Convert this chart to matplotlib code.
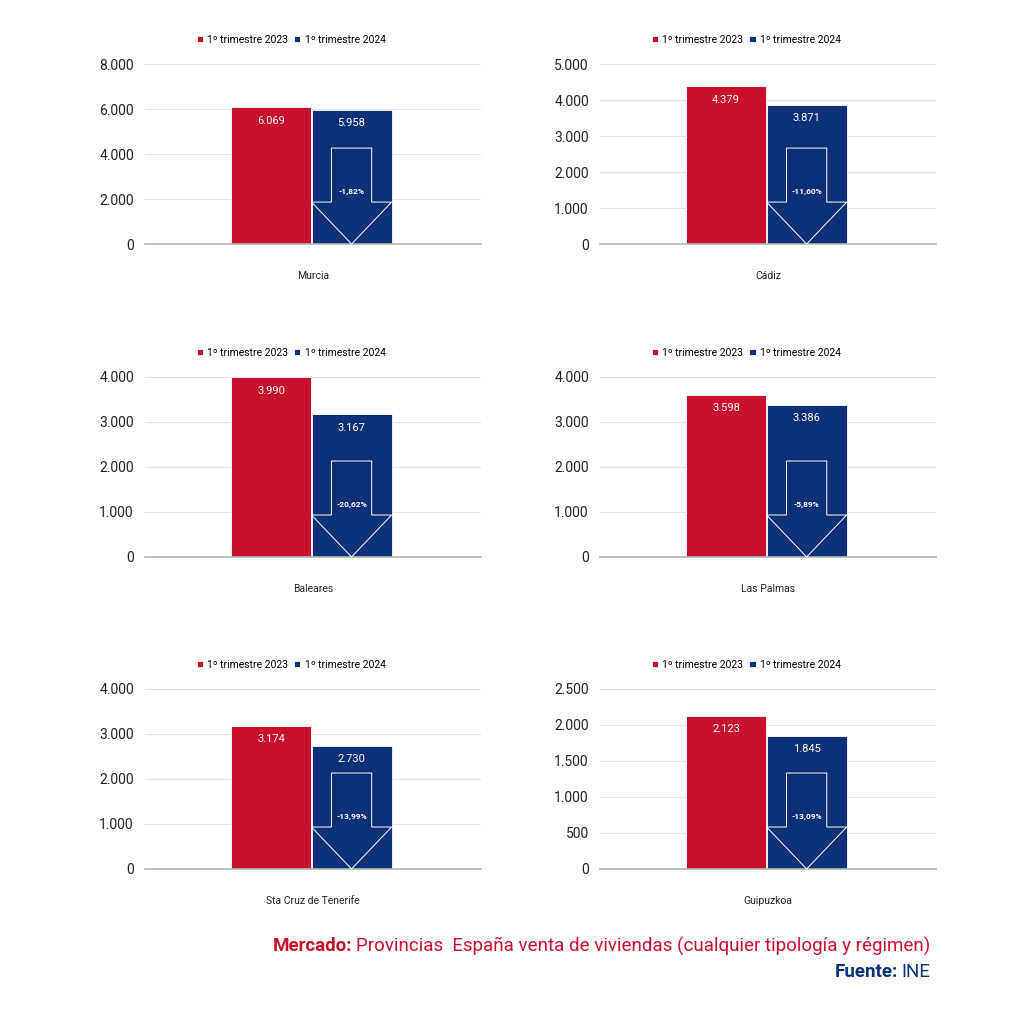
import numpy as np
import matplotlib
matplotlib.use('Agg')
import matplotlib.pyplot as plt
import matplotlib.transforms as mtransforms
from matplotlib.patches import Polygon
from matplotlib.ticker import FuncFormatter, MultipleLocator

plt.rcParams['font.family'] = ['Roboto', 'DejaVu Sans']

# ─────────────────────────────────────────
# Data
# ─────────────────────────────────────────
provincias = ['Murcia', 'Cádiz', 'Baleares', 'Las Palmas',
              'Sta Cruz de Tenerife', 'Guipuzkoa']
ventas_2023 = [6069, 4379, 3990, 3598, 3174, 2123]
ventas_2024 = [5958, 3871, 3167, 3386, 2730, 1845]
variacion = ['-1,82%', '-11,60%', '-20,62%', '-5,89%', '-13,99%', '-13,09%']
y_max = [8000, 5000, 4000, 4000, 4000, 2500]
y_step = [2000, 1000, 1000, 1000, 1000, 500]
series = ['1º trimestre 2023', '1º trimestre 2024']

RED = '#C8102E'
BLUE = '#0D3178'

# ─────────────────────────────────────────
# Layout (figure fractions)
# ─────────────────────────────────────────
lefts = [0.1416, 0.586]
bottoms = [0.7617, 0.4561, 0.1514]
w, h = 0.328, 0.1758

fmt = FuncFormatter(lambda v, p: f'{int(v):,}'.replace(',', '.'))

fig = plt.figure(figsize=(10.24, 10.24), dpi=100)

bw = 0.477
xr, xb = -0.25, 0.23

for i, prov in enumerate(provincias):
    ax = fig.add_axes([lefts[i % 2], bottoms[i // 2], w, h])
    ax.bar(xr, ventas_2023[i], width=bw, color=RED, label=series[0],
           edgecolor='white', linewidth=0.6)
    ax.bar(xb, ventas_2024[i], width=bw, color=BLUE, label=series[1],
           edgecolor='white', linewidth=0.6)
    ax.set_xlim(-1, 1)
    ax.set_ylim(0, y_max[i])
    ax.yaxis.set_major_locator(MultipleLocator(y_step[i]))
    ax.yaxis.set_major_formatter(fmt)
    ax.grid(axis='y', color='#e3e3e3', linewidth=0.8)
    ax.set_axisbelow(True)
    for s in ['top', 'right', 'left']:
        ax.spines[s].set_visible(False)
    ax.spines['bottom'].set_color('#b5b5b5')
    ax.spines['bottom'].set_linewidth(1.2)
    ax.tick_params(axis='y', length=0, labelsize=10, colors='#222222', pad=8)
    ax.set_xticks([])
    ax.text(0.5, -0.18, prov, transform=ax.transAxes, ha='center', va='center',
            fontsize=7.5, color='#222222')

    # value labels inside bars
    for xv, val in [(xr, ventas_2023[i]), (xb, ventas_2024[i])]:
        ax.annotate(f'{val:,}'.replace(',', '.'), (xv, val), xytext=(0, -6),
                    textcoords='offset points', ha='center', va='top',
                    color='white', fontsize=8)

    # down arrow inside the 2024 bar (x in data, y in axes fraction)
    trans = mtransforms.blended_transform_factory(ax.transData, ax.transAxes)
    half = bw / 2
    sh = 0.12
    pts = [(xb - sh, 0.533), (xb + sh, 0.533), (xb + sh, 0.233),
           (xb + half, 0.233), (xb, 0.0), (xb - half, 0.233),
           (xb - sh, 0.233)]
    ax.add_patch(Polygon(pts, closed=True, fill=False, edgecolor='white',
                         linewidth=0.7, transform=trans, zorder=3))
    ax.text(xb, 0.29, variacion[i], transform=trans, ha='center',
            va='center', color='white', fontsize=6, fontweight='bold')

    ax.legend(loc='center', bbox_to_anchor=(0.435, 1.135), ncol=2,
              frameon=False, fontsize=7.5, handlelength=0.6, handleheight=0.6,
              handletextpad=0.4, columnspacing=0.6)

# ─────────────────────────────────────────
# Footer
# ─────────────────────────────────────────
t1 = fig.text(0.908, 0.076, 'Provincias  España venta de viviendas (cualquier tipología y régimen)',
              ha='right', va='center', color=RED, fontsize=13.5)
fig.canvas.draw()
bb = t1.get_window_extent()
fig.text(bb.x0 / fig.bbox.width - 0.003, 0.076, 'Mercado:', ha='right', va='center',
         color=RED, fontsize=13.5, fontweight='bold')
t2 = fig.text(0.908, 0.051, 'INE', ha='right', va='center', color=BLUE, fontsize=13.5)
fig.canvas.draw()
bb2 = t2.get_window_extent()
fig.text(bb2.x0 / fig.bbox.width - 0.003, 0.051, 'Fuente:', ha='right', va='center',
         color=BLUE, fontsize=13.5, fontweight='bold')

plt.savefig('out.png', dpi=100)
